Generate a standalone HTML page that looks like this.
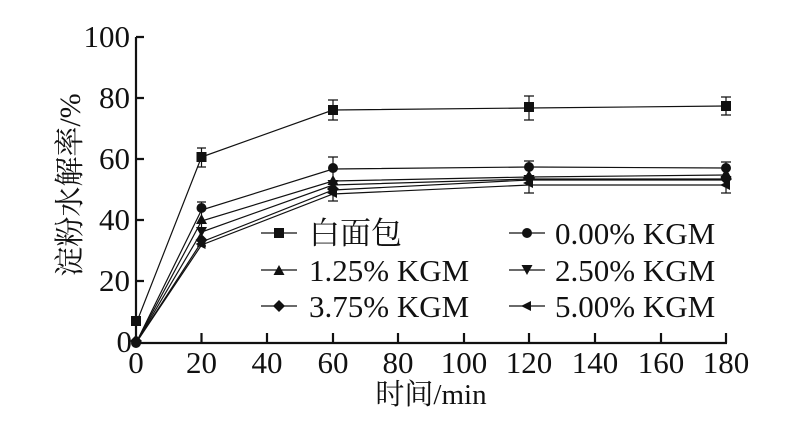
<!DOCTYPE html>
<html><head><meta charset="utf-8"><style>
html,body{margin:0;padding:0;background:#fff;width:796px;height:433px;overflow:hidden}
text{font-family:"Liberation Serif","Noto Serif CJK SC",serif;fill:#111}
</style></head><body>
<svg width="796" height="433" viewBox="0 0 796 433" xmlns="http://www.w3.org/2000/svg">
<defs>
<rect id="sq" x="-5" y="-5" width="10" height="10" fill="#111"/>
<circle id="ci" r="5" fill="#111"/>
<polygon id="tu" points="0,-6 5.5,4 -5.5,4" fill="#111"/>
<polygon id="td" points="0,6 5.5,-4 -5.5,-4" fill="#111"/>
<polygon id="di" points="0,-6 6,0 0,6 -6,0" fill="#111"/>
<polygon id="tl" points="-6,0 4,-5 4,5" fill="#111"/>
</defs>
<g stroke="#111" stroke-width="2.2" fill="none">
<path d="M136,37 V343 H727"/>
<path d="M136,37 h8 M136,98 h8 M136,159 h8 M136,220 h8 M136,281 h8"/>
<path d="M201.5,343 v-10 M267,343 v-10 M333,343 v-10 M398,343 v-10 M464,343 v-10 M529,343 v-10 M595,343 v-10 M661,343 v-10 M726,343 v-10"/>
</g>
<g font-size="31" text-anchor="end">
<text x="130" y="47">100</text><text x="130" y="108">80</text><text x="130" y="169">60</text><text x="130" y="230">40</text><text x="130" y="291">20</text><text x="132" y="352">0</text>
</g>
<g font-size="31" text-anchor="middle">
<text x="136" y="373">0</text><text x="201.5" y="373">20</text><text x="267" y="373">40</text><text x="333" y="373">60</text><text x="398" y="373">80</text><text x="464" y="373">100</text><text x="529" y="373">120</text><text x="595" y="373">140</text><text x="661" y="373">160</text><text x="726" y="373">180</text>
<text x="431" y="404" font-size="29">时间/min</text>
</g>
<text transform="translate(80,185) rotate(-90)" font-size="30" text-anchor="middle">淀粉水解率/%</text>
<g stroke="#111" stroke-width="1.2" fill="none">
<path d="M201.5,148 v10 M197,148 h9 M197,167 h9 M201.5,167 v-9"/>
<path d="M333,100 v20 M328,100 h10 M328,120 h10"/>
<path d="M529,96 v24 M524,96 h10 M524,120 h10"/>
<path d="M726,97 v18 M721,97 h10 M721,115 h10"/>
<path d="M201.5,202 v44 M197,202 h9 M197,246 h9"/>
<path d="M333,157 v44 M328,157 h10 M328,201 h10"/>
<path d="M529,161 v32 M524,161 h10 M524,193 h10"/>
<path d="M726,162 v31 M721,162 h10 M721,193 h10"/>
<polyline points="136,324 201.5,157 333,110 529,108 726,106"/>
<polyline points="136,343 201.5,210 333,169 529,167 726,168"/>
<polyline points="136,343 201.5,221 333,181 529,177 726,175"/>
<polyline points="136,343 201.5,232 333,185 529,179 726,179"/>
<polyline points="136,343 201.5,242 333,190 529,180 726,180"/>
<polyline points="136,343 201.5,245 333,194 529,185 726,185"/>
</g>
<g>
<use href="#sq" x="136" y="321"/><use href="#sq" x="201.5" y="157"/><use href="#sq" x="333" y="110"/><use href="#sq" x="529" y="107"/><use href="#sq" x="726" y="106"/>
<use href="#ci" x="136" y="343"/><use href="#ci" x="201.5" y="208"/><use href="#ci" x="333" y="168"/><use href="#ci" x="529" y="167"/><use href="#ci" x="726" y="168"/>
<use href="#tu" x="201.5" y="220"/><use href="#tu" x="333" y="181"/><use href="#tu" x="529" y="176"/><use href="#tu" x="726" y="174"/>
<use href="#td" x="201.5" y="231"/><use href="#td" x="333" y="184"/><use href="#td" x="529" y="179"/><use href="#td" x="726" y="180"/>
<use href="#di" x="201.5" y="240"/><use href="#di" x="333" y="189"/><use href="#di" x="529" y="178"/><use href="#di" x="726" y="179"/>
<use href="#tl" x="201.5" y="244"/><use href="#tl" x="333" y="193"/><use href="#tl" x="529" y="183"/><use href="#tl" x="726" y="185"/>
<use href="#di" x="136" y="341"/>
</g>
<g stroke="#111" stroke-width="1.2">
<path d="M261,233 h36 M261,270 h36 M261,306 h36 M509,233 h36 M509,270 h36 M509,306 h36"/>
</g>
<use href="#sq" x="279" y="233"/><use href="#tu" x="279" y="271"/><use href="#di" x="279" y="306"/>
<use href="#ci" x="527" y="233"/><use href="#td" x="527" y="269"/><use href="#tl" x="527" y="306"/>
<g font-size="31">
<text x="309" y="244">白面包</text><text x="309" y="281">1.25% KGM</text><text x="309" y="317">3.75% KGM</text>
<text x="555" y="244">0.00% KGM</text><text x="555" y="281">2.50% KGM</text><text x="555" y="317">5.00% KGM</text>
</g>
</svg>
</body></html>
